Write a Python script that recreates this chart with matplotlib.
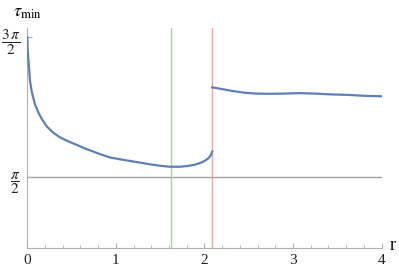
import matplotlib
matplotlib.use("Agg")
import matplotlib.pyplot as plt
import numpy as np
from matplotlib.ticker import MultipleLocator

plt.rcParams['font.family'] = ['Liberation Serif', 'DejaVu Serif']
plt.rcParams['mathtext.fontset'] = 'stix'

# lower branch of tau_min(r)
r_low = [0.000, 0.004, 0.016, 0.030, 0.045, 0.064, 0.09, 0.129, 0.17, 0.222, 0.29,
         0.36, 0.45, 0.558, 0.65, 0.745, 0.84, 0.93, 1.04, 1.16, 1.28, 1.40, 1.51,
         1.61, 1.72, 1.82, 1.90, 1.96, 2.01, 2.05, 2.075, 2.088]
tau_low = [4.71, 4.45, 4.13, 3.75, 3.55, 3.38, 3.19, 3.01, 2.86, 2.71, 2.58,
           2.48, 2.39, 2.30, 2.22, 2.15, 2.08, 2.02, 1.98, 1.94, 1.90, 1.86, 1.83,
           1.81, 1.81, 1.83, 1.86, 1.90, 1.95, 2.01, 2.08, 2.15]

# upper branch after the jump
r_up = [2.088, 2.20, 2.31, 2.45, 2.58, 2.75, 2.90, 3.07, 3.25, 3.45, 3.63, 3.80, 4.00]
tau_up = [3.59, 3.55, 3.51, 3.47, 3.45, 3.445, 3.45, 3.46, 3.45, 3.43, 3.42, 3.40, 3.39]

r_green = 1.618
r_red = 2.088
tau_ref = np.pi / 2

ytick_vals = [np.pi / 2, 3 * np.pi / 2]
ytick_labels = [r'$\dfrac{\pi}{2}$', r'$\dfrac{3\,\pi}{2}$']
xtick_vals = [0, 1, 2, 3, 4]

fig = plt.figure(figsize=(3.99, 2.70), dpi=100)
ax = fig.add_axes([0.0684, 0.0833, 0.888, 0.813])

blue = '#5E81B5'
ax.axhline(tau_ref, color='#a0a0a0', lw=1.0, zorder=1)
ax.axvline(r_green, color='#a9cfa5', lw=1.0, zorder=1)
ax.axvline(r_red, color='#ff9a9a', lw=1.0, zorder=1)
ax.plot(r_low, tau_low, color=blue, lw=1.6, zorder=3)
ax.plot(r_up, tau_up, color=blue, lw=1.6, zorder=3)

ax.set_xlim(0, 4.0)
ax.set_ylim(0, 4.92)

for s in ['top', 'right']:
    ax.spines[s].set_visible(False)
for s in ['left', 'bottom']:
    ax.spines[s].set_color('#b0b0b0')
    ax.spines[s].set_linewidth(0.8)

ax.set_xticks(xtick_vals)
ax.xaxis.set_minor_locator(MultipleLocator(0.2))
ax.set_yticks(ytick_vals)
ax.set_yticklabels(ytick_labels)
ax.tick_params(axis='both', which='major', direction='in', length=3.5,
               color='#b0b0b0', labelsize=11, labelcolor='#222222')
ax.tick_params(axis='x', which='minor', direction='in', length=2, color='#b0b0b0')
ax.tick_params(axis='x', which='major', pad=5)
ax.tick_params(axis='y', which='major', pad=5, labelsize=11)

fig.text(27 / 399, 1 - 13 / 270, r'$\tau_{\rm min}$', ha='center', va='center', fontsize=13)
fig.text(390 / 399, 1 - 246 / 270, 'r', ha='left', va='center', fontsize=13)

fig.savefig('out.png', dpi=100)
